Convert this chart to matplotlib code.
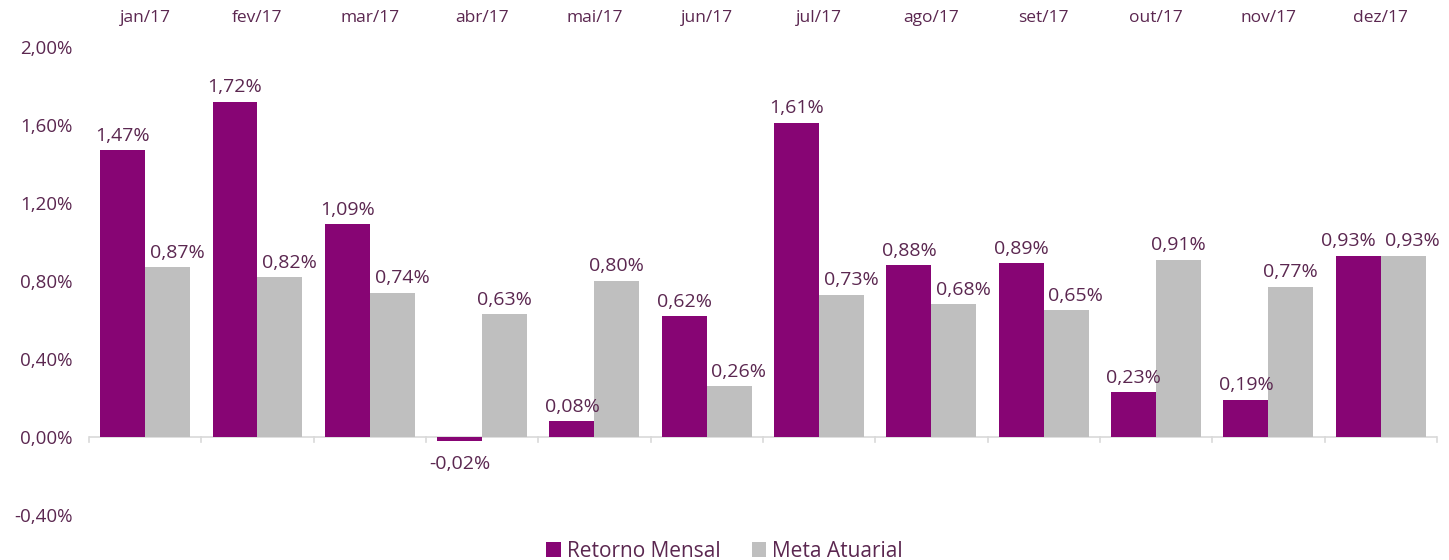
import matplotlib.pyplot as plt
import numpy as np

plt.rcParams['font.family'] = ['Open Sans', 'DejaVu Sans']

meses = ['jan/17', 'fev/17', 'mar/17', 'abr/17', 'mai/17', 'jun/17',
         'jul/17', 'ago/17', 'set/17', 'out/17', 'nov/17', 'dez/17']
retorno = [1.47, 1.72, 1.09, -0.02, 0.08, 0.62, 1.61, 0.88, 0.89, 0.23, 0.19, 0.93]
meta = [0.87, 0.82, 0.74, 0.63, 0.80, 0.26, 0.73, 0.68, 0.65, 0.91, 0.77, 0.93]

roxo = '#870574'
cinza = '#bfbfbf'
txt = '#5b2750'

def pct(v):
    return ('%.2f%%' % v).replace('.', ',')

fig = plt.figure(figsize=(14.49, 5.6), dpi=100)
ax = fig.add_axes([0.0614, 0.0804, 0.9302, 0.8357])

x = np.arange(len(meses))
w = 0.4
b1 = ax.bar(x - w/2, retorno, w, color=roxo, label='Retorno Mensal')
b2 = ax.bar(x + w/2, meta, w, color=cinza, label='Meta Atuarial')

def rotulo(cx, v, dx):
    if v >= 0:
        ax.annotate(pct(v), (cx, v), xytext=(dx, 4), textcoords='offset points',
                    ha='center', va='bottom', fontsize=14, color=txt)
    else:
        ax.annotate(pct(v), (cx, v), xytext=(dx, -10), textcoords='offset points',
                    ha='center', va='top', fontsize=14, color=txt)

# labels get nudged sideways where they'd run into the neighbour bar/label
for r1, r2, v1, v2 in zip(b1, b2, retorno, meta):
    c1 = r1.get_x() + r1.get_width()/2
    c2 = r2.get_x() + r2.get_width()/2
    if abs(v1 - v2) < 0.05:
        rotulo(c1, v1, -7)
        rotulo(c2, v2, 7)
    else:
        rotulo(c1, v1, 0)
        rotulo(c2, v2, 7 if v1 > v2 else 0)

ax.set_xlim(-0.5, len(meses) - 0.5)
ax.set_ylim(-0.4, 2.0)
ticks = np.arange(-0.4, 2.01, 0.4)
ax.set_yticks(ticks)
ax.set_yticklabels([pct(v) for v in ticks], fontsize=13.5, color=txt)
ax.tick_params(axis='y', length=0, pad=12)

for s in ['top', 'right', 'left', 'bottom']:
    ax.spines[s].set_visible(False)
ax.axhline(0, color='#d9d9d9', lw=1.2, zorder=0)

ax.set_xticks([])
for b in np.arange(-0.5, len(meses), 1.0):
    ax.plot([b, b], [0, -0.025], color='#d9d9d9', lw=1.2, clip_on=False)

for xi, m in zip(x, meses):
    ax.text(xi, 1.045, m, transform=ax.get_xaxis_transform(), ha='center',
            va='bottom', fontsize=12.5, color=txt)

fig.legend(handles=[b1, b2], loc='lower center', bbox_to_anchor=(0.5, -0.037),
           ncol=2, frameon=False, fontsize=15, labelcolor=txt,
           handlelength=0.7, handleheight=0.7, handletextpad=0.3, columnspacing=1.5)

fig.savefig('out.png', dpi=100)
